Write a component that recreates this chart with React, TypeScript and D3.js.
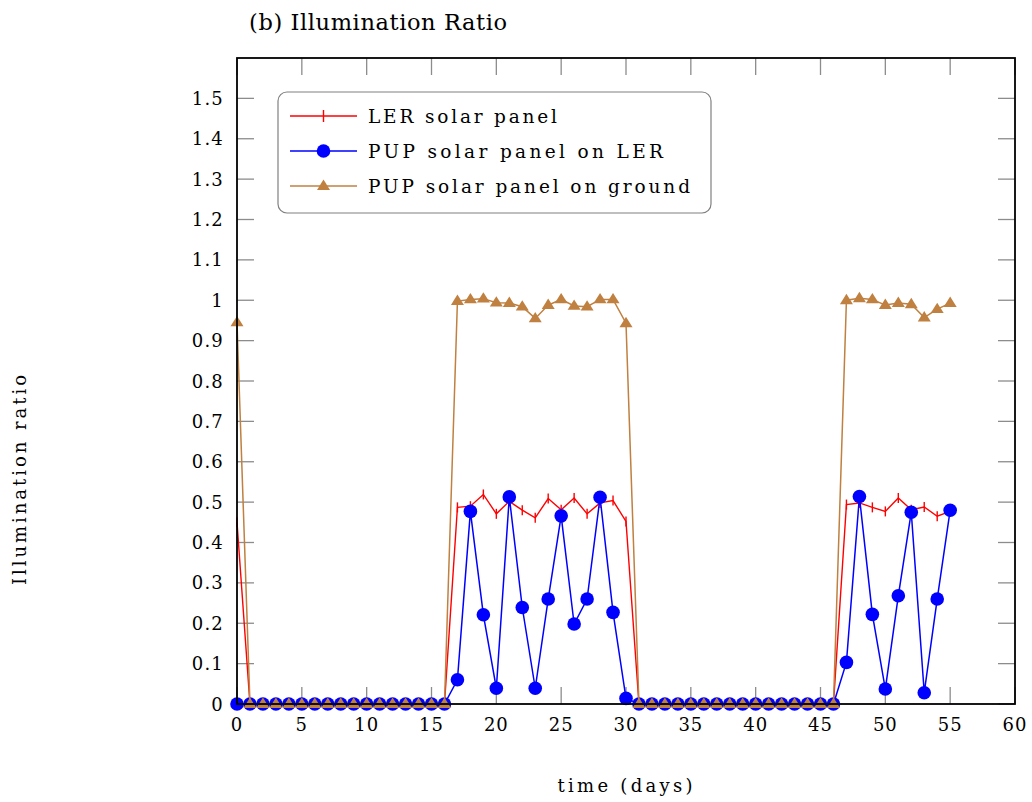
import React from "react";
import * as d3 from "d3";

const days = [0,1,2,3,4,5,6,7,8,9,10,11,12,13,14,15,16,17,18,19,20,21,22,23,24,25,26,27,28,29,30,31,32,33,34,35,36,37,38,39,40,41,42,43,44,45,46,47,48,49,50,51,52,53,54,55];

const lerPanel = [0.45,0,0,0,0,0,0,0,0,0,0,0,0,0,0,0,0,0.487,0.49,0.519,0.471,0.502,0.48,0.461,0.509,0.481,0.51,0.471,0.498,0.504,0.452,0,0,0,0,0,0,0,0,0,0,0,0,0,0,0,0,0.494,0.498,0.487,0.477,0.51,0.481,0.488,0.465,0.477];

const pupOnLer = [0,0,0,0,0,0,0,0,0,0,0,0,0,0,0,0,0,0.06,0.477,0.221,0.039,0.513,0.239,0.039,0.26,0.466,0.198,0.26,0.512,0.227,0.014,0,0,0,0,0,0,0,0,0,0,0,0,0,0,0,0,0.103,0.514,0.222,0.037,0.268,0.475,0.028,0.26,0.48];

const pupOnGround = [0.945,0,0,0,0,0,0,0,0,0,0,0,0,0,0,0,0,0.998,1.002,1.004,0.994,0.993,0.984,0.955,0.988,1.002,0.986,0.984,1.002,1.002,0.943,0,0,0,0,0,0,0,0,0,0,0,0,0,0,0,0,1.0,1.005,1.002,0.988,0.993,0.99,0.957,0.978,0.993];

const xTicks = [0,5,10,15,20,25,30,35,40,45,50,55,60];
const yTicks = [0,0.1,0.2,0.3,0.4,0.5,0.6,0.7,0.8,0.9,1,1.1,1.2,1.3,1.4,1.5];

const seriesNames = ["LER solar panel", "PUP solar panel on LER", "PUP solar panel on ground"];
const RED = "#ff0000";
const BLUE = "#0000ff";
const BROWN = "#bf8040";

const FONT = "'DejaVu Serif', 'Liberation Serif', serif";

function triPath(cx: number, cy: number, s = 1) {
  const h = 6.5 * s, w = 6.5 * s;
  return `M${cx},${cy - h} L${cx + w},${cy + h * 0.6} L${cx - w},${cy + h * 0.6} Z`;
}

export default function App() {
  const L = 237, R = 1015, T = 58, B = 704;
  const x = d3.scaleLinear().domain([0, 60]).range([L, R]);
  const y = d3.scaleLinear().domain([0, 1.6]).range([B, T]);

  const mk = (vals: number[]) =>
    d3.line<number>().x((_, i) => x(days[i])).y((v) => y(v))(vals) || "";

  const tickCol = "#8c8c8c";
  const tickLen = 17;

  const legX = 278, legY = 92, legW = 433, legH = 121;
  const rows = [116, 151, 186];

  return (
    <svg width={1032} height={802} style={{ position: "absolute", left: 0, top: 0, background: "#fff" }}
      fontFamily={FONT}>
      <rect x={0} y={0} width={1032} height={802} fill="#fff" />
      {/* title */}
      <text x={249} y={30} fontSize={22.5} textLength={258} lengthAdjust="spacing" fill="#000">(b) Illumination Ratio</text>

      {/* ticks */}
      {xTicks.map((t) => (
        <g key={"xt" + t}>
          <line x1={x(t)} x2={x(t)} y1={B} y2={B - tickLen} stroke={tickCol} strokeWidth={1.3} />
          <line x1={x(t)} x2={x(t)} y1={T} y2={T + tickLen} stroke={tickCol} strokeWidth={1.3} />
          <text x={x(t)} y={B + 27} fontSize={18} textAnchor="middle" letterSpacing={1}>{t}</text>
        </g>
      ))}
      {yTicks.map((t) => (
        <g key={"yt" + t}>
          <line x1={L} x2={L + tickLen} y1={y(t)} y2={y(t)} stroke={tickCol} strokeWidth={1.3} />
          <line x1={R} x2={R - tickLen} y1={y(t)} y2={y(t)} stroke={tickCol} strokeWidth={1.3} />
          <text x={224} y={y(t) + 6.5} fontSize={18} textAnchor="end" letterSpacing={1.2}>{String(t)}</text>
        </g>
      ))}

      {/* series */}
      <path d={mk(lerPanel)} fill="none" stroke={RED} strokeWidth={1.4} />
      {lerPanel.map((v, i) => (
        <line key={"rm" + i} x1={x(days[i])} x2={x(days[i])} y1={y(v) - 5} y2={y(v) + 5} stroke={RED} strokeWidth={1.4} />
      ))}
      <path d={mk(pupOnLer)} fill="none" stroke={BLUE} strokeWidth={1.5} />
      {pupOnLer.map((v, i) => (
        <circle key={"bm" + i} cx={x(days[i])} cy={y(v)} r={6.8} fill={BLUE} />
      ))}
      <path d={mk(pupOnGround)} fill="none" stroke={BROWN} strokeWidth={1.5} />
      {pupOnGround.map((v, i) => (
        <path key={"gm" + i} d={triPath(x(days[i]), y(v))} fill={BROWN} />
      ))}

      {/* frame */}
      <rect x={L} y={T} width={R - L} height={B - T} fill="none" stroke="#000" strokeWidth={1.8} />

      {/* legend */}
      <rect x={legX} y={legY} width={legW} height={legH} rx={9} ry={9} fill="#fff" stroke="#808080" strokeWidth={1.2} />
      {[0, 1, 2].map((k) => {
        const cy = rows[k];
        const col = [RED, BLUE, BROWN][k];
        return (
          <g key={"lg" + k}>
            <line x1={290} x2={357} y1={cy} y2={cy} stroke={col} strokeWidth={1.5} />
            {k === 0 && <line x1={323.5} x2={323.5} y1={cy - 6} y2={cy + 6} stroke={RED} strokeWidth={1.4} />}
            {k === 1 && <circle cx={323.5} cy={cy} r={6.8} fill={BLUE} />}
            {k === 2 && <path d={triPath(323.5, cy)} fill={BROWN} />}
            <text x={368} y={cy + 6.5} fontSize={18.5} textLength={[189, 295, 322][k]} lengthAdjust="spacing">{seriesNames[k]}</text>
          </g>
        );
      })}

      {/* axis labels */}
      <text x={625} y={792} fontSize={18} textAnchor="middle" textLength={135} lengthAdjust="spacing">time (days)</text>
      <text transform={`translate(26,480) rotate(-90)`} fontSize={18} textAnchor="middle" textLength={210} lengthAdjust="spacing">Illumination ratio</text>
    </svg>
  );
}
